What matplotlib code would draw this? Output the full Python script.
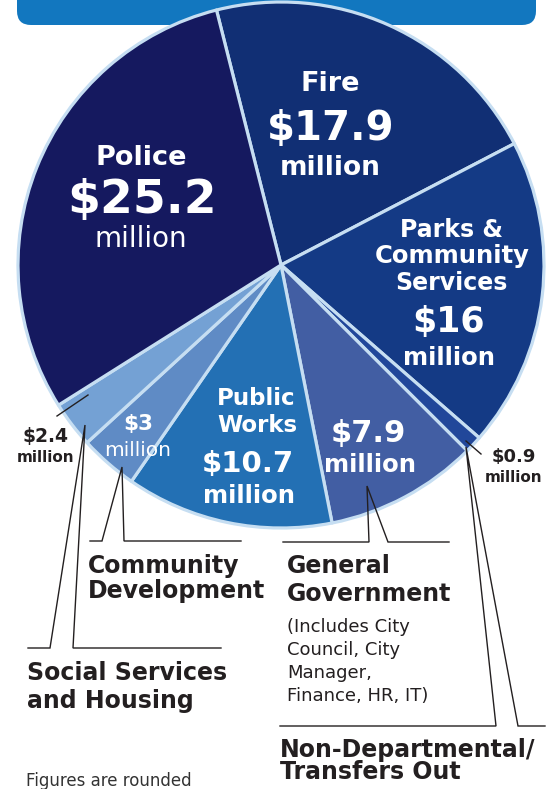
import matplotlib
matplotlib.use('Agg')
import matplotlib.pyplot as plt
from matplotlib.patches import FancyBboxPatch

# budget by department, millions (clockwise from the top)
categories = ['Fire', 'Parks & Community Services', 'Non-Departmental/Transfers Out',
              'General Government', 'Public Works', 'Community Development',
              'Social Services and Housing', 'Police']
values = [17.9, 16, 0.9, 7.9, 10.7, 3, 2.4, 25.2]
colors = ['#112f74', '#143a85', '#21479a', '#425ea3', '#2370b4', '#5f8bc5', '#74a1d4', '#15195f']

EDGE = '#c6def2'
DARK = '#231f20'
W = 558
H = 789

fig = plt.figure(figsize=(W / 100, H / 100), dpi=100)
ax = fig.add_axes([0, 0, 1, 1])

# banner bottom at the top of the page
banner = FancyBboxPatch((17, -40), 519, 65, boxstyle='round,pad=0,rounding_size=14',
                        facecolor='#1277bf', edgecolor='none', zorder=0)
ax.add_patch(banner)

# y axis runs downwards, so counterclock=True draws clockwise on screen
wedges, _ = ax.pie(values, colors=colors, startangle=-104.2, counterclock=True,
                   center=(281, 265), radius=263,
                   wedgeprops=dict(edgecolor=EDGE, linewidth=2.3, joinstyle='round'))
for w in wedges:
    w.set_zorder(1)

ax.set_xlim(0, W)
ax.set_ylim(H, 0)
ax.set_aspect('auto')
ax.axis('off')

val = dict(zip(categories, values))


def money(name):
    return f"${val[name]:g}"


def wt(x, y, s, size, weight='bold', color='white', ha='center'):
    ax.text(x, y, s, ha=ha, va='baseline', fontsize=size, fontweight=weight,
            color=color, zorder=4)


# labels inside the slices
wt(141, 165, 'Police', 19.5)
wt(142, 213, money('Police'), 34)
wt(141, 247, 'million', 20, 'normal')

wt(330, 91, 'Fire', 19.5)
wt(331, 140, money('Fire'), 29)
wt(330, 175, 'million', 19)

wt(451, 237, 'Parks &', 17)
wt(452, 263, 'Community', 17.5)
wt(451, 290, 'Services', 17)
wt(449, 332, money('Parks & Community Services'), 25)
wt(449, 365, 'million', 17.5)

wt(256, 405, 'Public', 16.5)
wt(257, 432, 'Works', 16.5)
wt(248, 472, money('Public Works'), 21)
wt(249, 503, 'million', 17.5)

wt(368, 442, money('General Government'), 22)
wt(370, 472, 'million', 17.5)

wt(138, 430, money('Community Development'), 15.5)
wt(138, 456, 'million', 14.5, 'normal')

# small values outside
wt(46, 442, money('Social Services and Housing'), 13.5, color=DARK)
wt(46, 462, 'million', 11, color=DARK)
wt(514, 462, money('Non-Departmental/Transfers Out'), 13, color=DARK)
wt(514, 482, 'million', 11, color=DARK)

# department names below the pie
wt(88, 573, 'Community', 17, color=DARK, ha='left')
wt(88, 598, 'Development', 17, color=DARK, ha='left')
wt(287, 573, 'General', 17, color=DARK, ha='left')
wt(287, 601, 'Government', 17, color=DARK, ha='left')
desc = ['(Includes City', 'Council, City', 'Manager,', 'Finance, HR, IT)']
for i, line in enumerate(desc):
    wt(287, 632 + 23 * i, line, 13, 'normal', DARK, 'left')
wt(27, 680, 'Social Services', 17, color=DARK, ha='left')
wt(27, 708, 'and Housing', 17, color=DARK, ha='left')
wt(280, 757, 'Non-Departmental/', 17, color=DARK, ha='left')
wt(280, 779, 'Transfers Out', 17, color=DARK, ha='left')
wt(26, 786, 'Figures are rounded', 12, 'normal', '#333333', 'left')

# leader lines
leaders = [
    [(57, 416), (88, 395)],
    [(28, 648), (50, 648), (85, 425), (73, 648), (221, 648)],
    [(90, 541), (102, 541), (122, 467), (124, 541), (241, 541)],
    [(283, 542), (369, 542), (367, 486), (388, 542), (449, 542)],
    [(466, 441), (481, 454)],
    [(280, 726), (496, 726), (466, 447), (518, 726), (545, 726)],
]
for pts in leaders:
    xs = [p[0] for p in pts]
    ys = [p[1] for p in pts]
    ax.plot(xs, ys, color=DARK, linewidth=1.0, zorder=3, solid_joinstyle='miter')

fig.savefig('out.png', dpi=100)
